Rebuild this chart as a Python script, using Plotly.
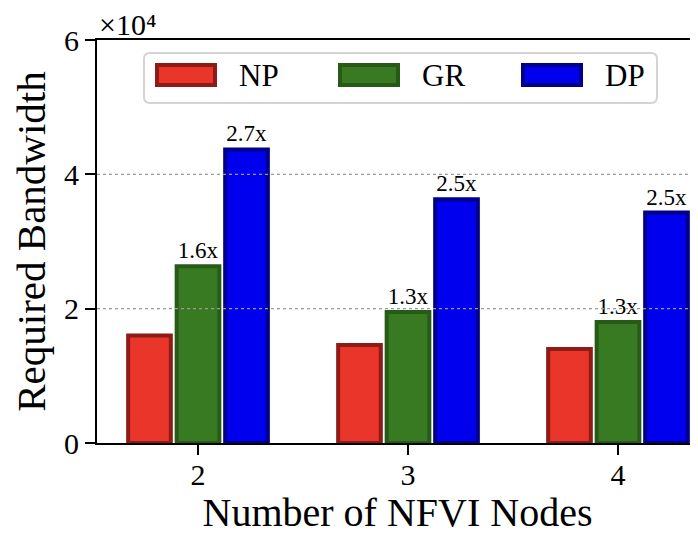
import plotly.graph_objects as go

# ---- data ----
nodes = ['2', '3', '4']
series_names = ['NP', 'GR', 'DP']
np_bw = [16000, 14600, 14000]
gr_bw = [26300, 19500, 18000]
dp_bw = [43700, 36300, 34300]
gr_labels = ['1.6x', '1.3x', '1.3x']
dp_labels = ['2.7x', '2.5x', '2.5x']
y_tickvals = [0, 20000, 40000, 60000]
y_ticktext = ['0', '2', '4', '6']

# ---- style ----
FONT = 'Liberation Serif'
OFF = 8  # page body margin
W, H = 690, 527
ML, MT = 97 - OFF, 40 - OFF
MB = H - (443 - OFF)
MR = 0
PW, PH = W - ML - MR, H - MT - MB
fills = ['#e9352a', '#377a21', '#0000ee']
edges = ['#8e1b16', '#285a17', '#00008b']

def pxx(x):
    # page pixel -> paper x
    return (x - OFF - ML) / PW

def pxy(y):
    # page pixel -> paper y
    return (H - MB - (y - OFF)) / PH

fig = go.Figure()
values = [np_bw, gr_bw, dp_bw]
labels = [None, gr_labels, dp_labels]
for name, vals, lab, fc, ec in zip(series_names, values, labels, fills, edges):
    kw = {}
    if lab:
        kw = dict(text=lab, textposition='outside',
                  textfont=dict(family=FONT, size=23, color='black'),
                  constraintext='none')
    fig.add_trace(go.Bar(
        x=nodes, y=vals, name=name,
        marker=dict(color=fc, line=dict(color=ec, width=4)),
        cliponaxis=False, showlegend=False, **kw,
    ))

shapes = []
# dotted grid lines drawn above bars
for v in y_tickvals[1:-1]:
    shapes.append(dict(type='line', xref='paper', yref='y', x0=0, x1=1, y0=v, y1=v,
                       line=dict(color='#9a9a9a', width=1.2, dash='dot'), layer='above'))

# custom legend box (rounded)
bx0, bx1, by0, by1, r = 144, 657, 53, 103, 6
rx, ry = r / PW, r / PH
X0, X1, Y0, Y1 = pxx(bx0), pxx(bx1), pxy(by1), pxy(by0)
path = (f'M {X0+rx},{Y0} L {X1-rx},{Y0} Q {X1},{Y0} {X1},{Y0+ry} '
        f'L {X1},{Y1-ry} Q {X1},{Y1} {X1-rx},{Y1} L {X0+rx},{Y1} '
        f'Q {X0},{Y1} {X0},{Y1-ry} L {X0},{Y0+ry} Q {X0},{Y0} {X0+rx},{Y0} Z')
shapes.append(dict(type='path', xref='paper', yref='paper', path=path,
                   fillcolor='rgba(255,255,255,0.85)', line=dict(color='#d4d4d4', width=2),
                   layer='above'))
annotations = []
item_x = [155, 338, 521]
for i, (name, fc, ec) in enumerate(zip(series_names, fills, edges)):
    x = item_x[i]
    shapes.append(dict(type='rect', xref='paper', yref='paper',
                       x0=pxx(x + 2), x1=pxx(x + 60), y0=pxy(85), y1=pxy(65),
                       fillcolor=fc, line=dict(color=ec, width=4), layer='above'))
    annotations.append(dict(xref='paper', yref='paper', x=pxx(x + 82), y=pxy(76),
                            text=name, showarrow=False, xanchor='left', yanchor='middle',
                            font=dict(family=FONT, size=31, color='black')))

# x10^4 multiplier
annotations.append(dict(xref='paper', yref='paper', x=pxx(97), y=pxy(25),
                        text='×10⁴', showarrow=False, xanchor='left', yanchor='middle',
                        font=dict(family=FONT, size=30, color='black')))

fig.update_layout(
    width=W, height=H,
    margin=dict(l=ML, r=MR, t=MT, b=MB, autoexpand=False),
    paper_bgcolor='white', plot_bgcolor='white',
    barmode='group', bargap=0.307, bargroupgap=0.12,
    font=dict(family=FONT, color='black'),
    shapes=shapes, annotations=annotations,
    xaxis=dict(type='category', range=[-0.481, 2.381],
               showline=True, linecolor='black', linewidth=2, mirror=True,
               ticks='outside', ticklen=10, tickwidth=2, tickcolor='black',
               tickfont=dict(family=FONT, size=30), ticklabelstandoff=-6,
               showgrid=False, zeroline=False,
               title=dict(text='Number of NFVI Nodes', font=dict(family=FONT, size=40), standoff=12)),
    yaxis=dict(range=[0, 60000], tickvals=y_tickvals, ticktext=y_ticktext,
               showline=True, linecolor='black', linewidth=2,
               ticks='outside', ticklen=10, tickwidth=2, tickcolor='black',
               tickfont=dict(family=FONT, size=30),
               showgrid=False, zeroline=False,
               title=dict(text='Required Bandwidth', font=dict(family=FONT, size=41), standoff=9)),
)

fig.write_html('out.html')
